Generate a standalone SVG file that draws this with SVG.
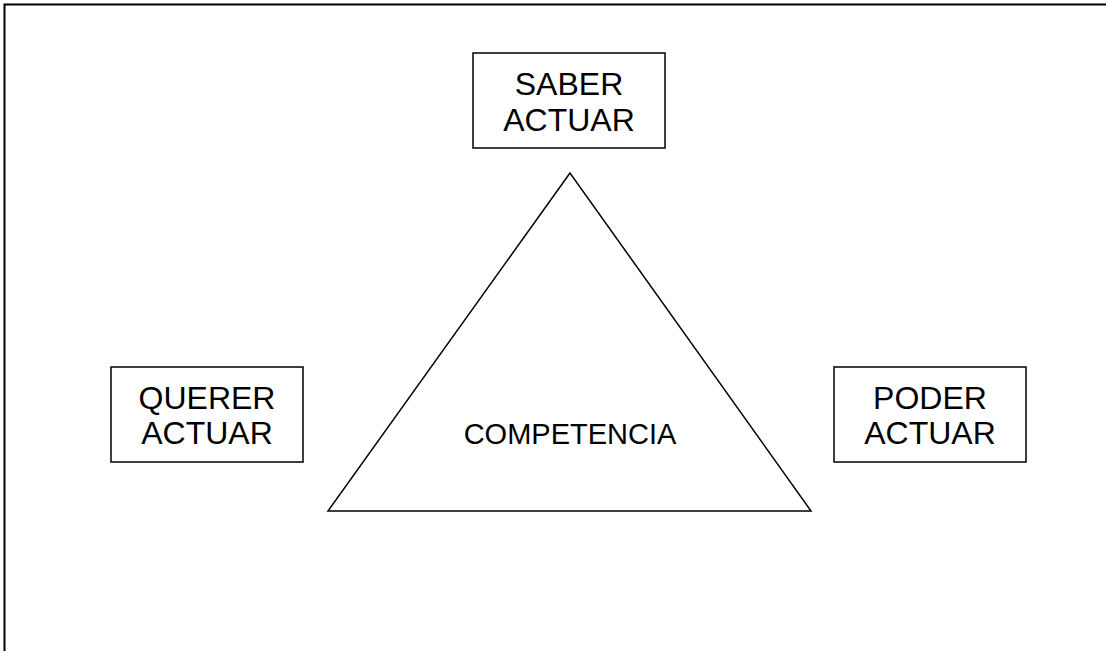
<svg xmlns="http://www.w3.org/2000/svg" width="1106" height="651" viewBox="0 0 1106 651">
<style>
.box{fill:#fff;stroke:#000;stroke-width:1.5}
.lbl{font-family:"Liberation Sans",Arial,sans-serif;font-size:32px;fill:#000;text-anchor:middle}
.frame{fill:none;stroke:#000;stroke-width:2}
</style>
<rect width="1106" height="651" fill="#fff"/>
<path class="frame" d="M4.5,651 V4.5 H1106"/>
<g id="triangle">
<polygon points="570,173 328,511 811,511" fill="#fff" stroke="#000" stroke-width="1.5"/>
<text x="570" y="443.5" style="font-family:'Liberation Sans',Arial,sans-serif;font-size:29px;text-anchor:middle">COMPETENCIA</text>
</g>
<g id="saber">
<rect class="box" x="473" y="53" width="192" height="95"/>
<text class="lbl" x="569" y="95">SABER</text>
<text class="lbl" x="569" y="131">ACTUAR</text>
</g>
<g id="querer">
<rect class="box" x="111" y="367" width="192" height="95"/>
<text class="lbl" x="207" y="408.5">QUERER</text>
<text class="lbl" x="207" y="444">ACTUAR</text>
</g>
<g id="poder">
<rect class="box" x="834" y="367" width="192" height="95"/>
<text class="lbl" x="930" y="408.5">PODER</text>
<text class="lbl" x="930" y="444">ACTUAR</text>
</g>
<g id="connectors"></g>
</svg>
